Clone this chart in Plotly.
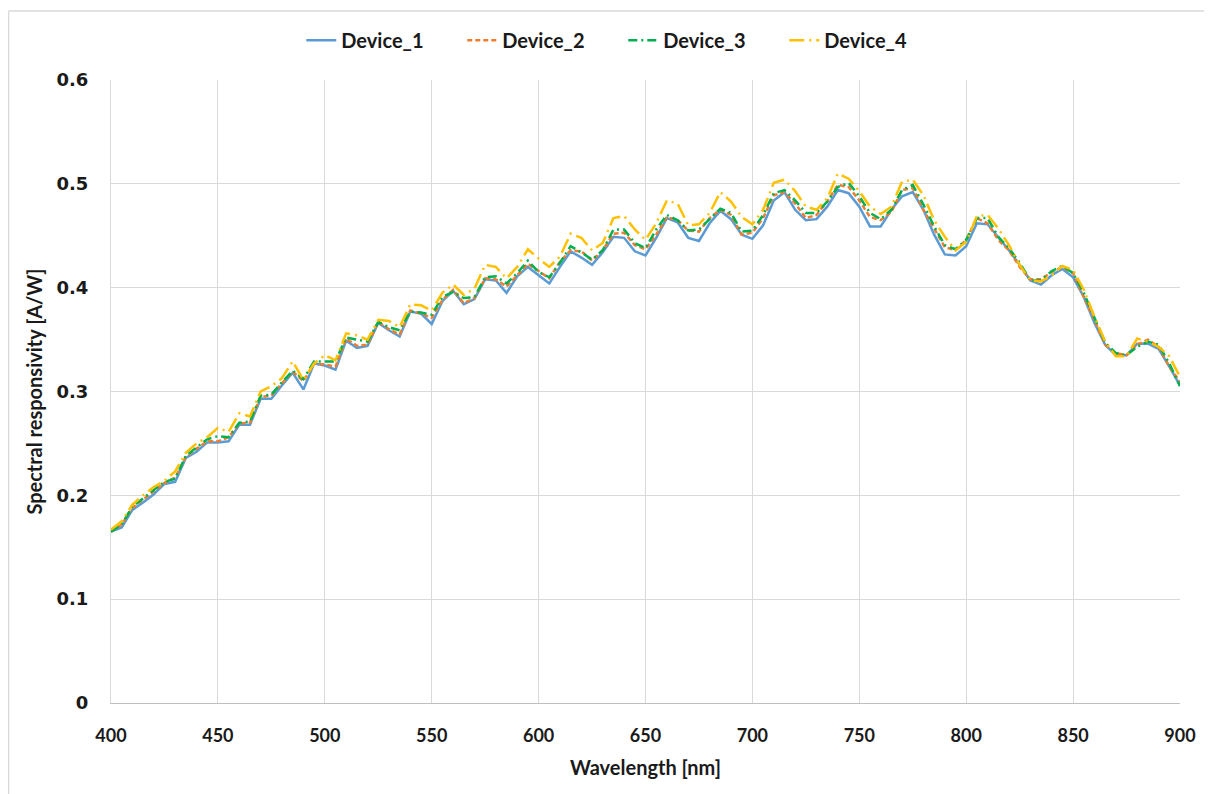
import plotly.graph_objects as go

wavelength = list(range(400, 905, 5))

device_1 = [0.165, 0.169, 0.186, 0.193, 0.201, 0.211, 0.213, 0.236, 0.242, 0.251,
            0.251, 0.252, 0.268, 0.268, 0.293, 0.293, 0.306, 0.318, 0.302, 0.327,
            0.325, 0.321, 0.349, 0.342, 0.344, 0.366, 0.359, 0.353, 0.377, 0.375,
            0.365, 0.387, 0.397, 0.384, 0.389, 0.408, 0.407, 0.395, 0.411, 0.420,
            0.412, 0.404, 0.420, 0.435, 0.429, 0.422, 0.434, 0.449, 0.448, 0.435,
            0.431, 0.448, 0.467, 0.463, 0.448, 0.445, 0.462, 0.474, 0.466, 0.451,
            0.447, 0.460, 0.484, 0.492, 0.475, 0.465, 0.466, 0.478, 0.494, 0.491,
            0.478, 0.459, 0.459, 0.475, 0.488, 0.492, 0.475, 0.451, 0.432, 0.431,
            0.440, 0.462, 0.461, 0.449, 0.436, 0.422, 0.407, 0.403, 0.412, 0.418,
            0.410, 0.391, 0.366, 0.345, 0.335, 0.335, 0.346, 0.346, 0.341, 0.324,
            0.306]

device_2 = [0.165, 0.172, 0.188, 0.196, 0.204, 0.212, 0.217, 0.237, 0.245, 0.252,
            0.252, 0.256, 0.269, 0.270, 0.295, 0.296, 0.308, 0.319, 0.310, 0.327,
            0.326, 0.324, 0.351, 0.344, 0.345, 0.367, 0.360, 0.355, 0.378, 0.375,
            0.371, 0.388, 0.398, 0.385, 0.390, 0.409, 0.408, 0.401, 0.412, 0.423,
            0.416, 0.409, 0.425, 0.436, 0.435, 0.426, 0.436, 0.452, 0.453, 0.441,
            0.437, 0.451, 0.468, 0.465, 0.455, 0.454, 0.467, 0.475, 0.470, 0.451,
            0.453, 0.467, 0.489, 0.492, 0.481, 0.467, 0.470, 0.483, 0.499, 0.497,
            0.484, 0.468, 0.465, 0.473, 0.494, 0.496, 0.475, 0.457, 0.439, 0.436,
            0.446, 0.467, 0.462, 0.446, 0.436, 0.420, 0.408, 0.408, 0.415, 0.420,
            0.414, 0.391, 0.369, 0.345, 0.337, 0.335, 0.345, 0.350, 0.343, 0.324,
            0.309]

device_3 = [0.165, 0.172, 0.189, 0.197, 0.205, 0.213, 0.216, 0.238, 0.246, 0.254,
            0.257, 0.256, 0.270, 0.271, 0.296, 0.297, 0.309, 0.320, 0.312, 0.329,
            0.329, 0.329, 0.352, 0.350, 0.348, 0.367, 0.362, 0.359, 0.377, 0.376,
            0.374, 0.391, 0.396, 0.390, 0.391, 0.410, 0.411, 0.404, 0.414, 0.426,
            0.415, 0.410, 0.424, 0.440, 0.434, 0.427, 0.436, 0.456, 0.456, 0.443,
            0.438, 0.456, 0.470, 0.465, 0.455, 0.456, 0.466, 0.476, 0.472, 0.454,
            0.455, 0.470, 0.491, 0.494, 0.484, 0.472, 0.472, 0.483, 0.497, 0.501,
            0.488, 0.472, 0.466, 0.475, 0.494, 0.499, 0.480, 0.459, 0.441, 0.437,
            0.446, 0.467, 0.467, 0.449, 0.438, 0.424, 0.407, 0.407, 0.416, 0.421,
            0.414, 0.395, 0.371, 0.347, 0.337, 0.335, 0.343, 0.348, 0.345, 0.327,
            0.305]

device_4 = [0.167, 0.175, 0.191, 0.200, 0.208, 0.214, 0.223, 0.241, 0.250, 0.256,
            0.265, 0.261, 0.279, 0.276, 0.300, 0.305, 0.313, 0.329, 0.311, 0.327,
            0.335, 0.330, 0.356, 0.354, 0.350, 0.369, 0.368, 0.362, 0.384, 0.383,
            0.378, 0.395, 0.403, 0.393, 0.399, 0.422, 0.420, 0.409, 0.420, 0.437,
            0.428, 0.420, 0.430, 0.452, 0.448, 0.436, 0.443, 0.467, 0.469, 0.456,
            0.446, 0.462, 0.484, 0.481, 0.460, 0.461, 0.472, 0.492, 0.483, 0.468,
            0.461, 0.475, 0.501, 0.504, 0.493, 0.478, 0.475, 0.486, 0.510, 0.505,
            0.493, 0.478, 0.471, 0.478, 0.502, 0.504, 0.489, 0.465, 0.449, 0.436,
            0.444, 0.469, 0.470, 0.457, 0.441, 0.422, 0.407, 0.406, 0.412, 0.421,
            0.417, 0.398, 0.372, 0.348, 0.334, 0.334, 0.351, 0.348, 0.343, 0.334,
            0.314]

series_names = ["Device_1", "Device_2", "Device_3", "Device_4"]
series_values = [device_1, device_2, device_3, device_4]
series_colors = ["#5B9BD5", "#ED7D31", "#00B050", "#FFC000"]
series_dash = ["solid", "5px,3px", "9px,4px,2px,4px", "15px,5px,2px,5px"]

x_ticks = [400, 450, 500, 550, 600, 650, 700, 750, 800, 850, 900]
y_ticks = [0, 0.1, 0.2, 0.3, 0.4, 0.5, 0.6]
y_ticklabels = ["0", "0.1", "0.2", "0.3", "0.4", "0.5", "0.6"]

fig = go.Figure()
for name, vals, col, dash in zip(series_names, series_values, series_colors, series_dash):
    fig.add_trace(go.Scatter(x=wavelength, y=vals, mode="lines", name=name,
                             line=dict(color=col, width=2.5, dash=dash)))

grid = "#D9D9D9"
txt = "#1a1a1a"
fig.update_layout(
    width=1204, height=786,
    margin=dict(l=103, r=32, t=72, b=91),
    paper_bgcolor="white", plot_bgcolor="white",
    showlegend=True,
    legend=dict(orientation="h", x=0.178, y=1.064, xanchor="left", yanchor="middle",
                font=dict(family="Lato", size=20, color=txt, weight="bold"),
                entrywidth=116, entrywidthmode="pixels", bgcolor="rgba(0,0,0,0)"),
    xaxis=dict(range=[400, 900], tickvals=x_ticks, showgrid=True, gridcolor=grid, gridwidth=1,
               showline=True, linecolor="#BFBFBF", linewidth=1, zeroline=False, ticks="",
               ticklabelstandoff=16,
               tickfont=dict(family="Lato", size=18, color=txt, weight="bold"),
               title=dict(text="Wavelength [nm]", standoff=16,
                          font=dict(family="Lato", size=20, color=txt, weight="bold"))),
    yaxis=dict(range=[0, 0.6], tickvals=y_ticks, ticktext=y_ticklabels, showgrid=True,
               gridcolor=grid, gridwidth=1, showline=True, linecolor=grid, linewidth=1,
               zeroline=False, ticks="", ticklabelstandoff=18,
               tickfont=dict(family="DejaVu Sans", size=18, color=txt, weight="bold"),
               title=dict(text="Spectral responsivity [A/W]", standoff=8,
                          font=dict(family="Lato", size=20, color=txt, weight="bold"))),
)

# outer chart border (top and left edges visible in the reference)
x_left = (0.5 - 103) / 1069
y_top = (695 - 3) / 623
fig.add_shape(type="line", xref="paper", yref="paper", x0=x_left, x1=1.2, y0=y_top, y1=y_top,
              line=dict(color="#D9D9D9", width=1.5), layer="below")
fig.add_shape(type="line", xref="paper", yref="paper", x0=x_left, x1=x_left, y0=-0.3, y1=y_top,
              line=dict(color="#D9D9D9", width=1.5), layer="below")

fig.write_html("out.html")
